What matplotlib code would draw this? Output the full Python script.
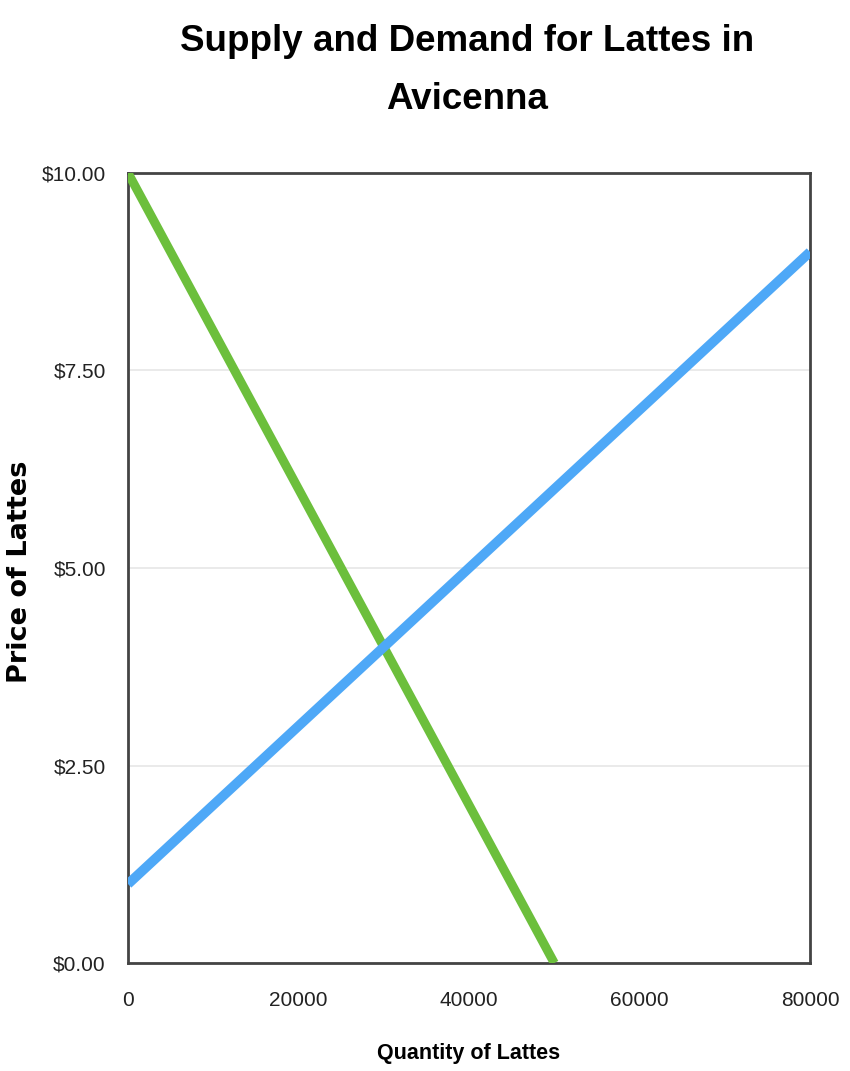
import matplotlib.pyplot as plt

# data
demand_qty = [0, 50000]
demand_price = [10, 0]
supply_qty = [0, 80000]
supply_price = [1, 9]
x_ticks = [0, 20000, 40000, 60000, 80000]
y_ticks = [0, 2.5, 5, 7.5, 10]
y_tick_labels = ["$0.00", "$2.50", "$5.00", "$7.50", "$10.00"]

font = "Liberation Sans"

fig = plt.figure(figsize=(8.5, 10.71), dpi=100)
ax = fig.add_axes([0.1506, 0.1008, 0.8024, 0.7377])

ax.plot(demand_qty, demand_price, color="#6cbf3c", lw=6.5, solid_capstyle="butt", zorder=3)
ax.plot(supply_qty, supply_price, color="#4ea8f7", lw=7, solid_capstyle="butt", zorder=4)

ax.set_xlim(0, 80000)
ax.set_ylim(0, 10)
ax.set_xticks(x_ticks)
ax.set_xticklabels([str(v) for v in x_ticks], fontfamily=font, fontsize=15, color="#222222")
ax.set_yticks(y_ticks)
ax.set_yticklabels(y_tick_labels, fontfamily=font, fontsize=15, color="#222222")
ax.tick_params(length=0, pad=16)
ax.tick_params(axis="x", pad=20)
ax.grid(axis="y", color="#e6e6e6", lw=1.2)
ax.set_axisbelow(True)
for s in ax.spines.values():
    s.set_color("#444444")
    s.set_linewidth(2)

ax.set_xlabel("Quantity of Lattes", fontfamily=font, fontweight="bold", fontsize=15.5, labelpad=24)
fig.text(0.024, 0.466, "Price of Lattes", rotation=90, ha="center", va="center",
         fontfamily="DejaVu Sans", fontweight="bold", fontsize=19.5)

fig.text(0.55, 0.934, "Supply and Demand for Lattes in\nAvicenna", ha="center", va="center",
         fontfamily=font, fontweight="bold", fontsize=26.5, linespacing=1.85)

fig.savefig("out.png", dpi=100)
